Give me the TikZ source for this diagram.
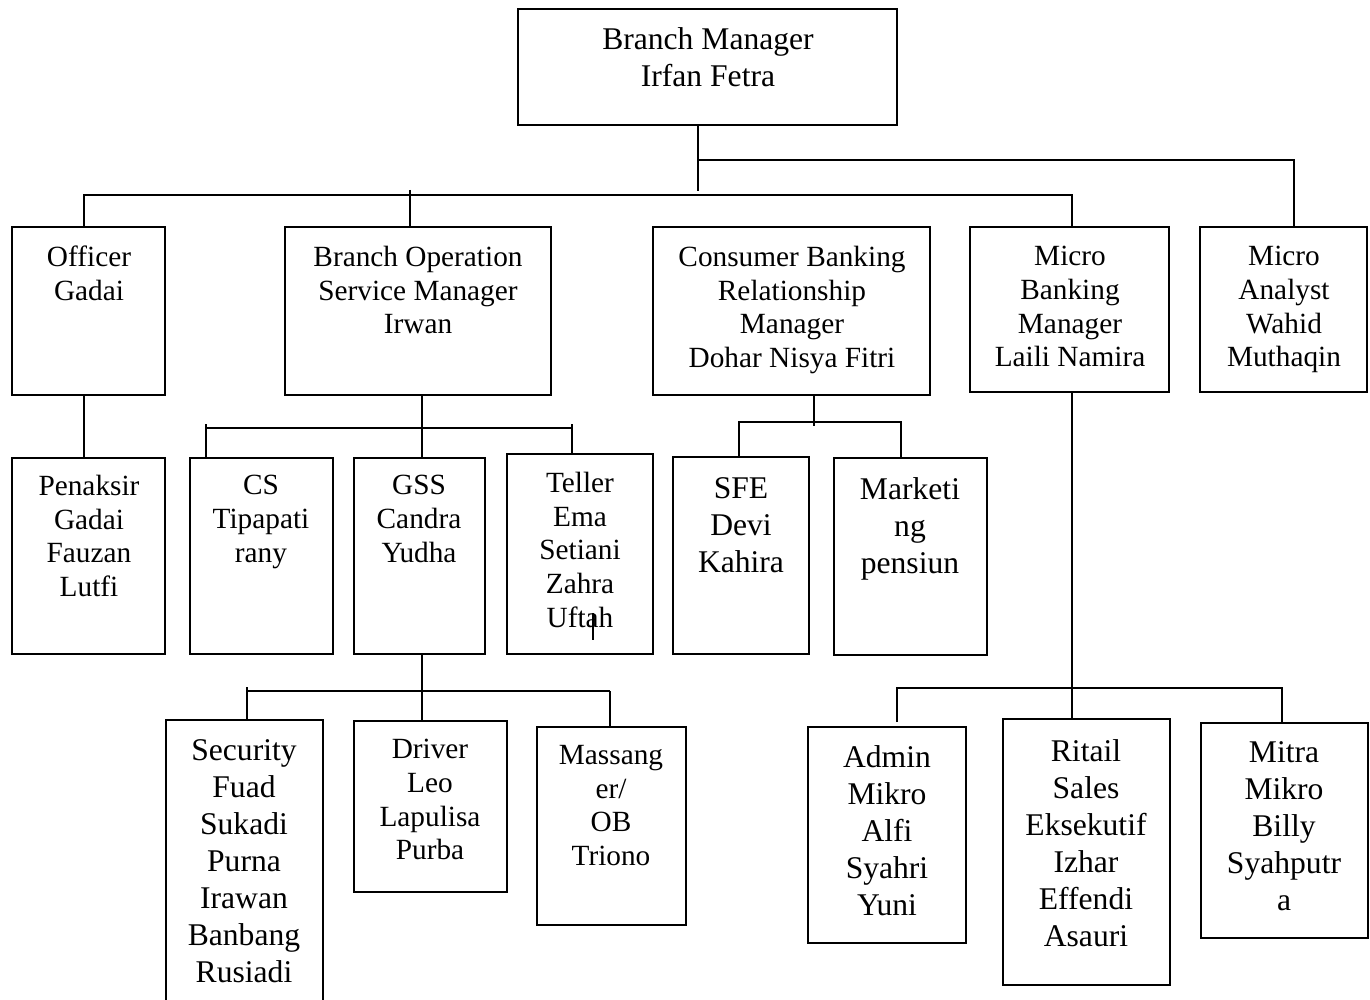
\documentclass[tikz,border=0pt]{standalone}
\usepackage{fontspec}
\setmainfont{Liberation Serif}
\begin{document}
\begin{tikzpicture}[x=1pt,y=-1pt,
  box/.style={draw,line width=1.8pt,inner sep=0pt,rectangle},
  st/.style={font=\fontsize{29.3}{33.7}\selectfont,align=center,inner sep=0pt,anchor=north},
  lt/.style={font=\fontsize{31.6}{37}\selectfont,align=center,inner sep=0pt,anchor=north},
  conn/.style={line width=1.8pt}]
\useasboundingbox (0,0) rectangle (1370,1000);
\clip (0,0) rectangle (1370,1000);
\fill[white] (0,0) rectangle (1370,1000);
\newcommand\mybox[5]{\node[box,minimum width={#4-#2},minimum height={#5-#3}] (#1) at ({(#2+#4)/2},{(#3+#5)/2}) {};}
% boxes
\mybox{tm}{518}{9}{897}{125}
\mybox{og}{12}{227}{165}{395}
\mybox{bo}{285}{227}{551}{395}
\mybox{cb}{653}{227}{930}{395}
\mybox{mb}{970}{227}{1169}{392}
\mybox{ma}{1200}{227}{1367}{392}
\mybox{pg}{12}{458}{165}{654}
\mybox{cs}{190}{458}{333}{654}
\mybox{gss}{354}{458}{485}{654}
\mybox{tl}{507}{454}{653}{654}
\mybox{sfe}{673}{457}{809}{654}
\mybox{mk}{834}{458}{987}{655}
\mybox{sec}{166}{720}{323}{1030}
\mybox{drv}{354}{721}{507}{892}
\mybox{msg}{537}{727}{686}{925}
\mybox{adm}{808}{727}{966}{943}
\mybox{rt}{1003}{719}{1170}{985}
\mybox{mit}{1201}{723}{1368}{938}
% texts
\node[lt] (tm-t) at (708,27) {Branch Manager\\Irfan Fetra};
\node[st] (og-t) at (89,246) {Officer\\Gadai};
\node[st] (bo-t) at (418,246) {Branch Operation\\Service Manager\\Irwan};
\node[st] (cb-t) at (792,246) {Consumer Banking\\Relationship\\Manager\\Dohar Nisya Fitri};
\node[st] (mb-t) at (1070,246) {Micro\\Banking\\Manager\\Laili Namira};
\node[st] (ma-t) at (1284,246) {Micro\\Analyst\\Wahid\\Muthaqin};
\node[st] (pg-t) at (89,475) {Penaksir\\Gadai\\Fauzan\\Lutfi};
\node[st] (cs-t) at (261,475) {CS\\Tipapati\\rany};
\node[st] (gss-t) at (419,475) {GSS\\Candra\\Yudha};
\node[st] (tl-t) at (580,472) {Teller\\Ema\\Setiani\\Zahra\\Uftah};
\node[lt] (sfe-t) at (741,477) {SFE\\Devi\\Kahira};
\node[lt] (mk-t) at (910,477) {Marketi\\ng\\pensiun};
\node[lt] (sec-t) at (244,739) {Security\\Fuad\\Sukadi\\Purna\\Irawan\\Banbang\\Rusiadi};
\node[st] (drv-t) at (430,739) {Driver\\Leo\\Lapulisa\\Purba};
\node[st] (msg-t) at (611,745) {Massang\\er/\\OB\\Triono};
\node[lt] (adm-t) at (887,745) {Admin\\Mikro\\Alfi\\Syahri\\Yuni};
\node[lt] (rt-t) at (1086,739) {Ritail\\Sales\\Eksekutif\\Izhar\\Effendi\\Asauri};
\node[lt] (mit-t) at (1284,741) {Mitra\\Mikro\\Billy\\Syahputr\\a};
% connectors: top
\coordinate (j0) at (698,191);
\coordinate (j1) at (698,160);
\coordinate (k1) at (1294,160);
\draw[conn] (tm.south -| j0) -- (j0);
\draw[conn] (j1) -- (k1) -- (k1 |- ma.north);
\coordinate (h0) at (84,195);
\coordinate (h1) at (1072,195);
\coordinate (h2) at (410,190);
\draw[conn] (og.north -| h0) -- (h0) -- (h1) -- (h1 |- mb.north);
\draw[conn] (h2) -- (h2 |- bo.north);
\draw[conn] (og.south -| h0) -- (pg.north -| h0);
% branch operation
\coordinate (b0) at (422,428);
\coordinate (b1) at (206,428);
\coordinate (b2) at (572,428);
\coordinate (b1t) at (206,424);
\coordinate (b2t) at (572,424);
\draw[conn] (bo.south -| b0) -- (gss.north -| b0);
\draw[conn] (b1) -- (b2);
\draw[conn] (b1t) -- (cs.north -| b1);
\draw[conn] (b2t) -- (tl.north -| b2);
% consumer banking
\coordinate (c0) at (814,426);
\coordinate (c1) at (739,422);
\coordinate (c2) at (901,422);
\draw[conn] (cb.south -| c0) -- (c0);
\draw[conn] (sfe.north -| c1) -- (c1) -- (c2) -- (mk.north -| c2);
% GSS
\coordinate (g0) at (422,691);
\coordinate (g1) at (247,691);
\coordinate (g2) at (610,691);
\coordinate (g1t) at (247,687);
\draw[conn] (gss.south -| g0) -- (drv.north -| g0);
\draw[conn] (g1) -- (g2);
\draw[conn] (g1t) -- (sec.north -| g1);
\draw[conn] (g2) -- (msg.north -| g2);
% micro banking
\coordinate (m0) at (1072,688);
\coordinate (m1) at (897,688);
\coordinate (m2) at (1282,688);
\coordinate (m1e) at (897,722);
\draw[conn] (mb.south -| m0) -- (rt.north -| m0);
\draw[conn] (m1e) -- (m1) -- (m2) -- (mit.north -| m2);
% stray mark in teller box
\coordinate (s1) at (593,613);
\coordinate (s2) at (593,640);
\draw[line width=1.5pt] (s1) -- (s2);
\end{tikzpicture}
\end{document}
